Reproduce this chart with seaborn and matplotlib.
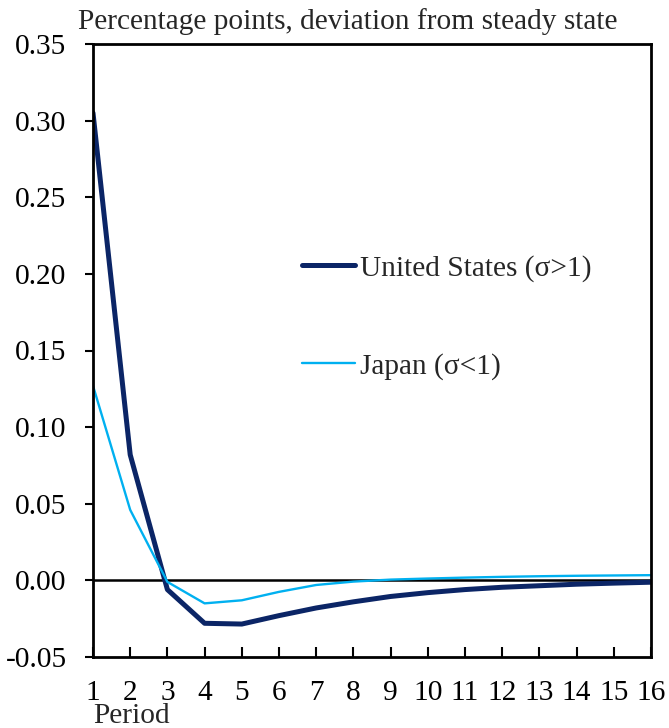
import matplotlib
matplotlib.use("Agg")
import matplotlib.pyplot as plt
import seaborn as sns
import pandas as pd
from matplotlib.lines import Line2D

periods = list(range(1, 17))
us_values = [0.305, 0.082, -0.006, -0.028, -0.0285, -0.023, -0.018, -0.014,
             -0.0105, -0.008, -0.006, -0.0045, -0.0035, -0.0025, -0.0018, -0.0012]
japan_values = [0.127, 0.046, -0.001, -0.015, -0.013, -0.0075, -0.003, -0.0008,
                0.0005, 0.0012, 0.0018, 0.0023, 0.0027, 0.003, 0.0032, 0.0034]
series_names = ["United States (σ>1)", "Japan (σ<1)"]
yticks = [-0.05, 0.0, 0.05, 0.10, 0.15, 0.20, 0.25, 0.30, 0.35]

sns.set_theme(style="white")
plt.rcParams["font.family"] = ["Liberation Serif", "DejaVu Serif"]

FS = 21.2

df = pd.DataFrame({
    "Period": periods * 2,
    "value": us_values + japan_values,
    "series": [series_names[0]] * 16 + [series_names[1]] * 16,
})

fig = plt.figure(figsize=(6.69, 7.28), dpi=100)
ax = fig.add_axes([93 / 669, (728 - 657) / 728, (651 - 93) / 669, (657 - 44) / 728])

palette = {series_names[0]: "#0b2566", series_names[1]: "#00b0f0"}
sns.lineplot(data=df, x="Period", y="value", hue="series", size="series",
             sizes={series_names[0]: 3.6, series_names[1]: 1.7},
             palette=palette, ax=ax, legend=False)

ax.axhline(0, color="black", lw=1.8, zorder=1)

ax.set_xlim(1, 16)
ax.set_ylim(-0.05, 0.35)
ax.set_xticks(periods)
ax.set_xticklabels([str(p) for p in periods])
ax.set_yticks(yticks)
ax.set_yticklabels([f"{v:.2f}" for v in yticks])
ax.set_xlabel("")
ax.set_ylabel("")

for s in ax.spines.values():
    s.set_visible(True)
    s.set_color("black")
    s.set_linewidth(2.0)

ax.tick_params(axis="y", direction="out", length=6, width=1.5, labelsize=FS,
               pad=13, left=True, colors="black")
ax.tick_params(axis="x", direction="in", length=7, width=1.5, labelsize=FS,
               pad=16.5, bottom=True, colors="black")

handles = [Line2D([], [], color=palette[series_names[0]], lw=3.6, solid_capstyle="round"),
           Line2D([], [], color=palette[series_names[1]], lw=1.7)]
ax.legend(handles, series_names, loc="upper left", bbox_to_anchor=(0.354, 0.675),
          frameon=False, fontsize=FS, handlelength=1.78, handletextpad=0.17,
          labelspacing=2.4, borderaxespad=0)

fig.text(78 / 669, 1 - 29 / 728, "Percentage points, deviation from steady state",
         fontsize=FS, ha="left", va="baseline")
fig.text(93 / 669, 1 - 723 / 728, "Period", fontsize=FS, ha="left", va="baseline")

fig.savefig("out.png", dpi=100)
